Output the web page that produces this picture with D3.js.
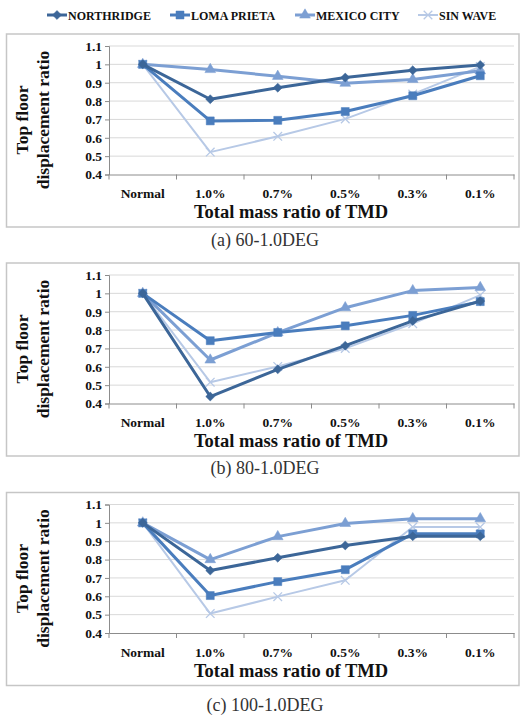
<!DOCTYPE html>
<html>
<head>
<meta charset="utf-8">
<title>Top floor displacement ratio</title>
<script src="https://cdn.jsdelivr.net/npm/d3@7/dist/d3.min.js"></script>
<style>
  body { margin: 0; background: #fff; }
  svg text { font-family: "Liberation Serif", "Times New Roman", serif; }
  .bold { font-weight: bold; fill: #111; }
</style>
</head>
<body>
<script>
// ---- data ----
const categories = ["Normal", "1.0%", "0.7%", "0.5%", "0.3%", "0.1%"];
const yTicks = [0.4, 0.5, 0.6, 0.7, 0.8, 0.9, 1, 1.1];
const seriesNames = ["NORTHRIDGE", "LOMA PRIETA", "MEXICO CITY", "SIN WAVE"];
const captions = ["(a)  60-1.0DEG", "(b)  80-1.0DEG", "(c)  100-1.0DEG"];

// panel (a) 60-1.0DEG
const northridgeA = [1.0, 0.81, 0.873, 0.928, 0.968, 0.997];
const lomaPrietaA = [1.0, 0.692, 0.695, 0.743, 0.829, 0.938];
const mexicoCityA = [1.0, 0.972, 0.935, 0.897, 0.918, 0.965];
const sinWaveA    = [1.0, 0.522, 0.608, 0.703, 0.838, 0.988];

// panel (b) 80-1.0DEG
const northridgeB = [1.0, 0.438, 0.586, 0.715, 0.85, 0.958];
const lomaPrietaB = [1.0, 0.742, 0.787, 0.823, 0.88, 0.955];
const mexicoCityB = [1.0, 0.637, 0.786, 0.922, 1.015, 1.032];
const sinWaveB    = [1.0, 0.516, 0.602, 0.7, 0.835, 0.99];

// panel (c) 100-1.0DEG
const northridgeC = [1.0, 0.74, 0.81, 0.877, 0.927, 0.927];
const lomaPrietaC = [1.0, 0.604, 0.68, 0.745, 0.94, 0.94];
const mexicoCityC = [1.0, 0.80, 0.925, 0.997, 1.023, 1.023];
const sinWaveC    = [1.0, 0.506, 0.598, 0.687, 0.977, 0.977];

const panels = [
  [northridgeA, lomaPrietaA, mexicoCityA, sinWaveA],
  [northridgeB, lomaPrietaB, mexicoCityB, sinWaveB],
  [northridgeC, lomaPrietaC, mexicoCityC, sinWaveC]
];

// ---- styling ----
const colors = ["#3c6698", "#4a7dbd", "#7c9fd3", "#b7c9e6"];
const widths = [3, 3, 3, 2];
const W = 522, H = 719;
const boxTops = [34, 263, 492.5];
const boxH = 193;
const plot = { left: 109, right: 514, top: 12, bottom: 140.5 };

const svg = d3.select("body").append("svg")
  .attr("width", W).attr("height", H);

const diamond = d3.symbol().type(d3.symbolDiamond2).size(52);
const square = d3.symbol().type(d3.symbolSquare).size(64);
const triangle = d3.symbol().type(d3.symbolTriangle).size(50);
const cross = d3.symbol().type(d3.symbolX).size(50);
const shapes = [diamond, square, triangle, cross];

function drawMarker(g, i, x, y) {
  const p = g.append("path")
    .attr("d", shapes[i]())
    .attr("transform", "translate(" + x + "," + y + ")");
  if (i === 3) {
    p.attr("fill", "none").attr("stroke", colors[i]).attr("stroke-width", 1.3);
  } else {
    p.attr("fill", colors[i]).attr("stroke", colors[i]).attr("stroke-width", 0.5);
  }
}

// ---- legend ----
const legendX = [47, 170, 295, 418];
const legend = svg.append("g").attr("id", "legend");
seriesNames.forEach((name, i) => {
  const g = legend.append("g").attr("transform", "translate(" + legendX[i] + ",15)");
  g.append("line").attr("x1", 0).attr("x2", 20).attr("y1", 0).attr("y2", 0)
    .attr("stroke", colors[i]).attr("stroke-width", widths[i]);
  drawMarker(g, i, 10, 0);
  g.append("text").attr("x", 21).attr("y", 4.5)
    .attr("class", "bold")
    .style("font-size", "12px")
    .text(name);
});

// ---- panels ----
panels.forEach((series, pi) => {
  const top = boxTops[pi];
  const g = svg.append("g").attr("transform", "translate(0," + top + ")");

  g.append("rect")
    .attr("x", 6.5).attr("y", 0).attr("width", 512.5).attr("height", boxH)
    .attr("fill", "none").attr("stroke", "#c6c6c6").attr("stroke-width", 1.5);

  const x = d3.scaleBand().domain(categories).range([plot.left, plot.right]);
  const y = d3.scaleLinear().domain([0.4, 1.1]).range([plot.bottom, plot.top]);

  // gridlines
  g.append("g").selectAll("line")
    .data(yTicks.filter(d => d > 0.4))
    .enter().append("line")
    .attr("x1", plot.left).attr("x2", plot.right)
    .attr("y1", d => y(d)).attr("y2", d => y(d))
    .attr("stroke", "#d9d9d9").attr("stroke-width", 1);

  // y axis
  const yAxis = g.append("g")
    .attr("transform", "translate(" + plot.left + ",0)")
    .call(d3.axisLeft(y).tickValues(yTicks).tickSize(4).tickPadding(3)
      .tickFormat(d => d === 1 ? "1" : d3.format(".1f")(d)));
  yAxis.select(".domain").attr("stroke", "#8c8c8c");
  yAxis.selectAll(".tick line").attr("stroke", "#8c8c8c");
  yAxis.selectAll(".tick text")
    .attr("class", "bold")
    .style("font-size", "13.5px")
    .style("font-family", "'Liberation Serif', serif");

  // x axis
  const xAxis = g.append("g")
    .attr("transform", "translate(0," + plot.bottom + ")")
    .call(d3.axisBottom(x).tickSize(0).tickPadding(14));
  xAxis.select(".domain").attr("stroke", "#8c8c8c");
  xAxis.selectAll(".tick text")
    .attr("class", "bold")
    .style("font-size", "13.5px")
    .style("font-family", "'Liberation Serif', serif");
  // tick marks at category boundaries
  xAxis.append("g").selectAll("line")
    .data(categories.concat(["end"]))
    .enter().append("line")
    .attr("x1", (d, i) => plot.left + i * x.step())
    .attr("x2", (d, i) => plot.left + i * x.step())
    .attr("y1", 0).attr("y2", 5)
    .attr("stroke", "#8c8c8c");

  // axis titles
  g.append("text")
    .attr("x", 291).attr("y", 184)
    .attr("text-anchor", "middle")
    .attr("class", "bold")
    .style("font-size", "18.5px")
    .text("Total mass ratio of TMD");
  const yt = g.append("text")
    .attr("transform", "translate(28," + 86 + ") rotate(-90)")
    .attr("text-anchor", "middle")
    .attr("class", "bold")
    .style("font-size", "17.5px");
  yt.append("tspan").attr("x", 0).attr("dy", 0).text("Top floor");
  yt.append("tspan").attr("x", 0).attr("dy", 21).text("displacement ratio");

  // series
  const line = d3.line()
    .x((d, i) => x(categories[i]) + x.bandwidth() / 2)
    .y(d => y(d));
  const order = [3, 2, 1, 0];
  order.forEach(si => {
    const vals = series[si];
    g.append("path")
      .datum(vals)
      .attr("d", line)
      .attr("fill", "none")
      .attr("stroke", colors[si])
      .attr("stroke-width", widths[si])
      .attr("stroke-linejoin", "round");
    const mg = g.append("g");
    vals.forEach((v, i) => drawMarker(mg, si, x(categories[i]) + x.bandwidth() / 2, y(v)));
  });

  // caption
  const capY = [240, 467.5, 705][pi];
  svg.append("text")
    .attr("x", 265).attr("y", capY + 6)
    .attr("text-anchor", "middle")
    .style("font-size", "18px")
    .attr("fill", "#333")
    .text(captions[pi]);
});
</script>
</body>
</html>
